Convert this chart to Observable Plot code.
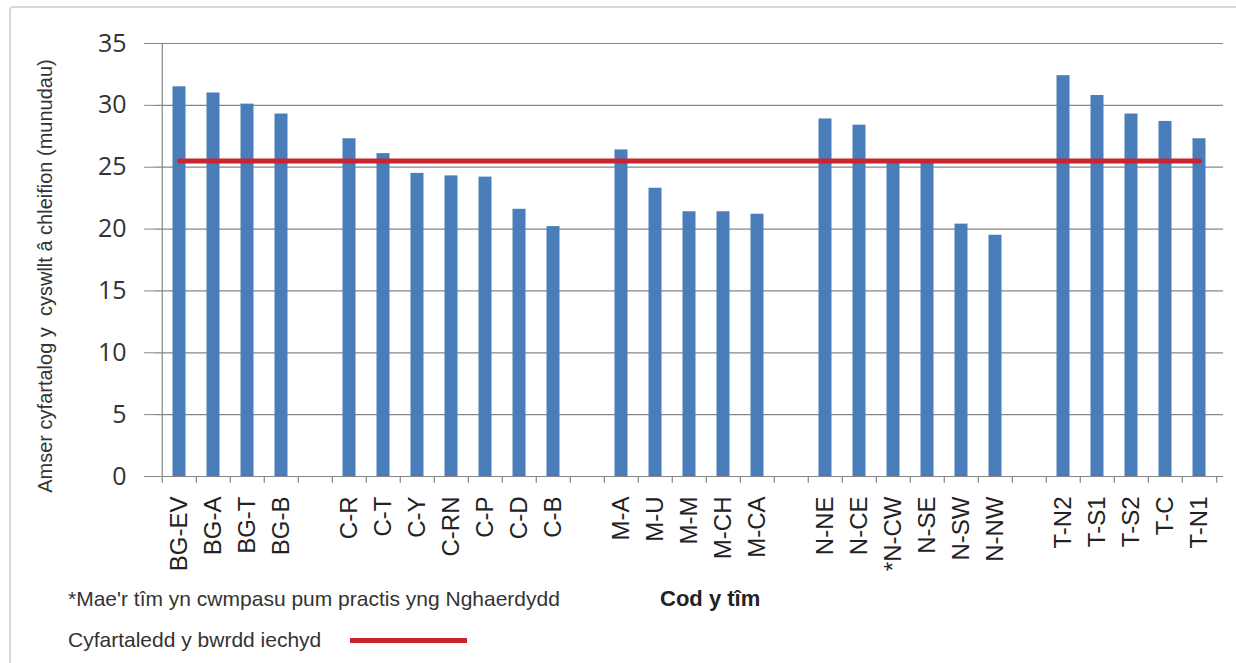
<!DOCTYPE html>
<html><head><meta charset="utf-8">
<script src="https://cdn.jsdelivr.net/npm/d3@7"></script>
<script src="https://cdn.jsdelivr.net/npm/@observablehq/plot@0.6"></script>
<style>
html,body{margin:0;padding:0;background:#fff}
body{width:1236px;height:663px;overflow:hidden;position:relative;font-family:"Liberation Sans",Arial,sans-serif}
#frame{position:absolute;left:9px;top:6px;width:1250px;height:720px;border:2px solid #d8d8d8;border-radius:4px;box-sizing:border-box}
#chart{position:absolute;left:0;top:0}
.note{position:absolute;font-size:21px;color:#333;white-space:pre;line-height:1}
#swatch{position:absolute;left:350px;top:638px;width:117px;height:5px;background:#c9252e}
</style></head><body>
<div id="frame"></div>
<div id="chart"></div>
<div class="note" style="left:68px;top:588px">*Mae'r tîm yn cwmpasu pum practis yng Nghaerdydd</div>
<div class="note" style="left:660px;top:588px;font-weight:bold;font-size:22px;color:#222">Cod y tîm</div>
<div class="note" style="left:68px;top:629px">Cyfartaledd y bwrdd iechyd</div>
<div id="swatch"></div>
<script>
// ---- data ----
const teams = ["BG-EV","BG-A","BG-T","BG-B","C-R","C-T","C-Y","C-RN","C-P","C-D","C-B","M-A","M-U","M-M","M-CH","M-CA","N-NE","N-CE","*N-CW","N-SE","N-SW","N-NW","T-N2","T-S1","T-S2","T-C","T-N1"];
const groups = ["BG","BG","BG","BG","C","C","C","C","C","C","C","M","M","M","M","M","N","N","N","N","N","N","T","T","T","T","T"];
const minutes = [31.5,31.0,30.1,29.3,27.3,26.1,24.5,24.3,24.2,21.6,20.2,26.4,23.3,21.4,21.4,21.2,28.9,28.4,25.3,25.4,20.4,19.5,32.4,30.8,29.3,28.7,27.3];
const boardAverage = 25.5;
const yTicks = [0,5,10,15,20,25,30,35];
const yTitle = "Amser cyfartalog y\u00a0 cyswllt â chleifion (munudau)";

// ---- build slots with blank gaps between groups ----
const slots = [];
teams.forEach((t, i) => {
  if (i > 0 && groups[i] !== groups[i - 1]) slots.push("gap" + i);
  slots.push(t);
});
const isGap = d => d.startsWith("gap");
const data = teams.map((t, i) => ({team: t, value: minutes[i]}));

const W = 1236, H = 590, mL = 155, mR = 13, mT = 43, mB = 114;
const bw = (W - mL - mR) / slots.length;
const axisGray = "#868686";

const chart = Plot.plot({
  width: W, height: H,
  marginTop: mT, marginBottom: mB, marginLeft: mL, marginRight: mR,
  style: {fontFamily: "'Liberation Sans', Arial, sans-serif", background: "transparent", overflow: "visible"},
  x: {type: "band", domain: slots, padding: 0, axis: null},
  y: {domain: [0, 35], axis: null},
  marks: [
    Plot.ruleY(yTicks.filter(d => d > 0), {stroke: axisGray, strokeWidth: 1.2}),
    Plot.barY(data, {x: "team", y: "value", fill: "#4a7ebb", insetLeft: 10.5, insetRight: 10.5}),
    Plot.line(slots, {x: d => d, y: () => boardAverage, stroke: "#c9252e", strokeWidth: 5}),
    Plot.ruleY([0], {stroke: axisGray, strokeWidth: 1.2}),
    Plot.ruleX([slots[0]], {x: d => d, y1: 0, y2: 35, dx: -bw / 2, stroke: axisGray, strokeWidth: 1.2}),
    Plot.ruleX(slots, {x: d => d, y1: 0, y2: -0.55, dx: -bw / 2, stroke: axisGray, strokeWidth: 1.2}),
    Plot.ruleX([slots[slots.length - 1]], {x: d => d, y1: 0, y2: -0.55, dx: bw / 2, stroke: axisGray, strokeWidth: 1.2}),
    Plot.axisY({ticks: yTicks, tickSize: 11, tickPadding: 18, fontSize: 25, fontFamily: "'Open Sans', sans-serif", color: axisGray, fill: "#333", label: null}),
    Plot.axisX({tickSize: 0, tickRotate: -90, tickPadding: 20, fontSize: 24, fill: "#222", tickFormat: d => isGap(d) ? "" : d, label: null}),
    Plot.text([yTitle], {frameAnchor: "left", textAnchor: "middle", rotate: -90, dx: -110, dy: 16, fontSize: 20, fill: "#333"})
  ]
});
document.getElementById("chart").appendChild(chart);
</script>
</body></html>
